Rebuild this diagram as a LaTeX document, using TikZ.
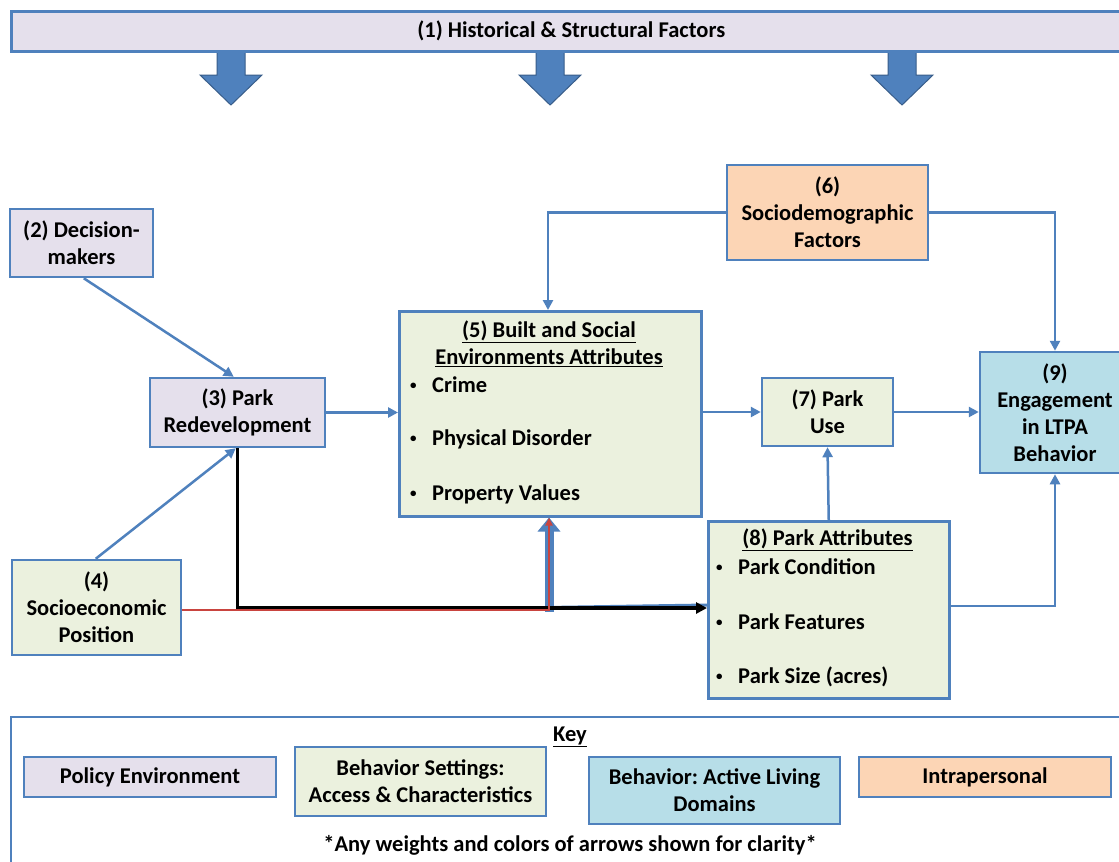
\documentclass[tikz,border=0pt]{standalone}
\usepackage{fontspec}
\setmainfont{Carlito}
\usetikzlibrary{arrows.meta,calc}
\definecolor{edgeblue}{HTML}{4F81BD}
\definecolor{darkblue}{HTML}{385D8A}
\definecolor{policy}{HTML}{E5E0EC}
\definecolor{setting}{HTML}{EBF1DE}
\definecolor{behav}{HTML}{B7DEE8}
\definecolor{intra}{HTML}{FCD5B5}
\definecolor{redline}{HTML}{C9443F}
\tikzset{
  txt/.style={font=\bfseries\fontsize{22.5}{27}\selectfont\frenchspacing, inner sep=0pt, align=center},
  box/.style={txt, draw=edgeblue, line width=2.5pt},
  conn/.style={draw=edgeblue, line width=2.5pt, -{Triangle[length=10pt,width=10pt]}},
  heavy/.style={draw=black, line width=3.8pt, -{Triangle[length=11pt,width=11pt]}},
  thinred/.style={draw=redline, line width=2pt, -{Triangle[length=8pt,width=7pt]}},
  widearrow/.style={draw=edgeblue, line width=9pt, -{Triangle[length=14pt,width=22pt]}},
  blockarrow/.style={fill=edgeblue, draw=darkblue, line width=1pt},
  bulletitem/.style={txt, anchor=west}
}
\newcommand{\bitem}[1]{\makebox[22pt][l]{\raisebox{3pt}{\fontsize{13}{13}\selectfont\textbullet}}#1}
\begin{document}
\begin{tikzpicture}[x=1pt,y=-1pt]
\clip (0,0) rectangle (1119,862);
\fill[white] (0,0) rectangle (1119,862);

% block arrows hanging under the top bar
\foreach \cx in {231,550,902}{
  \draw[blockarrow] (\cx-14,48) -- (\cx+14,48) -- (\cx+14,75) -- (\cx+31,75)
     -- (\cx,105) -- (\cx-31,75) -- (\cx-14,75) -- cycle;
}
\node[box, fill=policy, anchor=north west, minimum width=1120pt, minimum height=40pt] (n1) at (10,10) {(1) Historical \& Structural Factors};

% main boxes
\node[box, fill=policy, minimum width=143pt, minimum height=68pt] (n2) at (81.5,243) {(2) Decision-\\makers};
\node[box, fill=policy, minimum width=175pt, minimum height=69pt] (n3) at (237.5,412.5) {(3) Park\\Redevelopment};
\node[box, fill=setting, minimum width=169pt, minimum height=95pt] (n4) at (96.5,607.5) {(4)\\Socioeconomic\\Position};

\node[box, fill=setting, anchor=north west, minimum width=302pt, minimum height=205pt] (n5) at (398,310) {};
\node[txt] (n5t) at (549,343.5) {\underline{(5) Built and Social}\\\underline{Environments Attributes}};
\node[bulletitem] (n5a) at (410,385) {\bitem{Crime}};
\node[bulletitem] (n5b) at (410,439) {\bitem{Physical Disorder}};
\node[bulletitem] (n5c) at (410,494) {\bitem{Property Values}};

\node[box, fill=intra, minimum width=201pt, minimum height=95pt] (n6) at (827.5,212.5) {(6)\\Sociodemographic\\Factors};
\node[box, fill=setting, minimum width=131pt, minimum height=68pt] (n7) at (827.5,412) {(7) Park\\Use};

\node[box, fill=setting, anchor=north west, minimum width=241pt, minimum height=177pt] (n8) at (707,520) {};
\node[txt] (n8t) at (827.5,540) {\underline{(8) Park Attributes}};
\node[bulletitem] (n8a) at (716,567) {\bitem{Park Condition}};
\node[bulletitem] (n8b) at (716,622) {\bitem{Park Features}};
\node[bulletitem] (n8c) at (716,677) {\bitem{Park Size (acres)}};

\node[box, fill=behav, minimum width=150pt, minimum height=121pt] (n9) at (1055,412.5) {(9)\\Engagement\\in LTPA\\Behavior};

% connectors
\draw[conn] ($(n2.south west)+(75,0)$) -- ($(n3.north west)+(85,0)$);
\draw[conn] ($(n4.north west)+(85,0)$) -- ($(n3.south west)+(87,0)$);
\draw[conn] (n3.east) -- (n3.east -| n5.west);
\draw[conn] (n6.west) -| ($(n5.north west)+(150,0)$);
\draw[conn] (n6.east) -| (n9.north);
\draw[conn] (n7.west -| n5.east) -- (n7.west);
\draw[conn] (n7.east) -- (n7.east -| n9.west);
\draw[conn] (n8.north) -- (n7.south);
\draw[conn] ($(n8.north east)+(0,86)$) -| (n9.south);

% converging paths below box (5)
\coordinate (join) at ($(n5.south west)+(151,92)$);
\draw[edgeblue, line width=3pt] ($(n8.north west)+(0,85)$) -- ($(join)+(-4,-2)$);
\draw[widearrow] ($(join)+(0,2)$) -- (join |- n5.south);
\draw[heavy] (n3.south) |- ($(n8.north west)+(0,88)$);
\draw[thinred] (n4.east |- join) -| (join |- n5.south);

% key
\node[draw=edgeblue, line width=2pt, anchor=north west, minimum width=1130pt, minimum height=170pt] (key) at (10,716) {};
\node[txt] (keyt) at (570,737) {\underline{Key}};
\node[box, fill=policy, minimum width=252pt, minimum height=40pt] (k1) at (150,777) {Policy Environment};
\node[box, fill=setting, minimum width=251pt, minimum height=69pt] (k2) at (420.5,781.5) {Behavior Settings:\\Access \& Characteristics};
\node[box, fill=behav, minimum width=251pt, minimum height=67pt] (k3) at (714.5,790.5) {Behavior: Active Living\\Domains};
\node[box, fill=intra, minimum width=252pt, minimum height=40pt] (k4) at (985,777) {Intrapersonal};
\node[txt] (note) at (570,845) {*Any weights and colors of arrows shown for clarity*};
\end{tikzpicture}
\end{document}
